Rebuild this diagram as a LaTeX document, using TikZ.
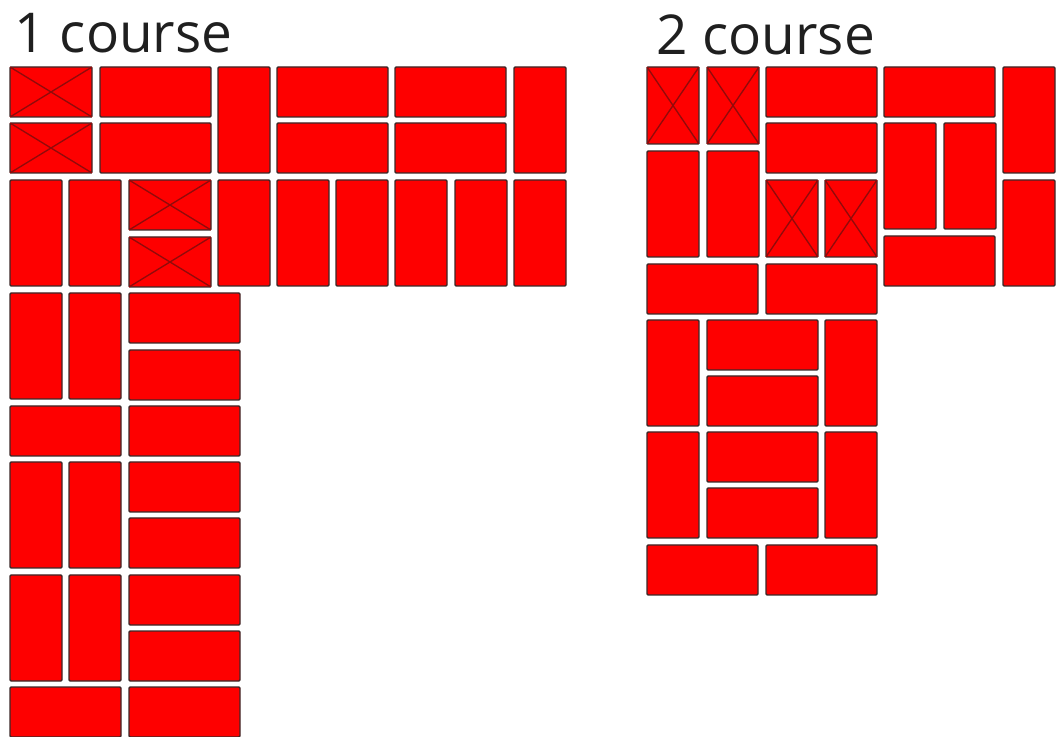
\documentclass[tikz,border=0pt]{standalone}
\usepackage{fontspec}
\setmainfont{Open Sans}
\usepackage{xcolor}
\definecolor{Xbrick}{RGB}{254,0,0}
\definecolor{Xedge}{RGB}{60,40,40}
\definecolor{Xcross}{RGB}{145,10,10}
\tikzset{
  brick/.style={draw=Xedge, fill=Xbrick, line width=1.1pt, rounded corners=0.8pt},
  crossline/.style={draw=Xcross, line width=1pt},
  coursetitle/.style={anchor=base west, inner sep=0pt, text=black!88, font=\fontsize{41.2}{44}\selectfont}
}
\begin{document}
\begin{tikzpicture}[x=0.75pt, y=-0.75pt]
  \useasboundingbox (0,0) rectangle (1057,737);
  \clip (0,0) rectangle (1057,737);

  \node[coursetitle] (title1) at (14,53) {1 course};
  \node[coursetitle] (title2) at (656.5,55) {2 course};

  % 1 course: long bricks
  \foreach \x/\y in {100/67, 100/123, 277/67, 395/67, 277/123, 395/123,
      129/293, 129/350, 10/406, 129/406, 129/462, 129/518, 129/575, 129/631, 10/687, 129/687}
    \draw[brick] (\x,\y) rectangle ++(111,50);
  % 1 course: upright bricks
  \foreach \x/\y in {218/67, 514/67, 10/180, 69/180, 218/180, 277/180, 336/180, 395/180, 455/180, 514/180,
      10/293, 69/293, 10/462, 69/462, 10/575, 69/575}
    \draw[brick] (\x,\y) rectangle ++(52,106);
  % 1 course: crossed bricks
  \foreach \x/\y in {10/67, 10/123, 129/180, 129/237} {
    \draw[brick] (\x,\y) rectangle ++(82,50);
    \draw[crossline] (\x,\y) -- ++(82,50) (\x+82,\y) -- ++(-82,50);
  }

  % 2 course: long bricks
  \foreach \x/\y in {766/67, 884/67, 766/123, 884/236, 647/264, 766/264,
      707/320, 707/376, 707/432, 707/488, 647/545, 766/545}
    \draw[brick] (\x,\y) rectangle ++(111,50);
  % 2 course: upright bricks
  \foreach \x/\y in {1003/67, 884/123, 944/123, 647/151, 707/151, 1003/180,
      647/320, 825/320, 647/432, 825/432}
    \draw[brick] (\x,\y) rectangle ++(52,106);
  % 2 course: crossed bricks
  \foreach \x/\y in {647/67, 707/67, 766/180, 825/180} {
    \draw[brick] (\x,\y) rectangle ++(52,77);
    \draw[crossline] (\x,\y) -- ++(52,77) (\x+52,\y) -- ++(-52,77);
  }
\end{tikzpicture}
\end{document}
